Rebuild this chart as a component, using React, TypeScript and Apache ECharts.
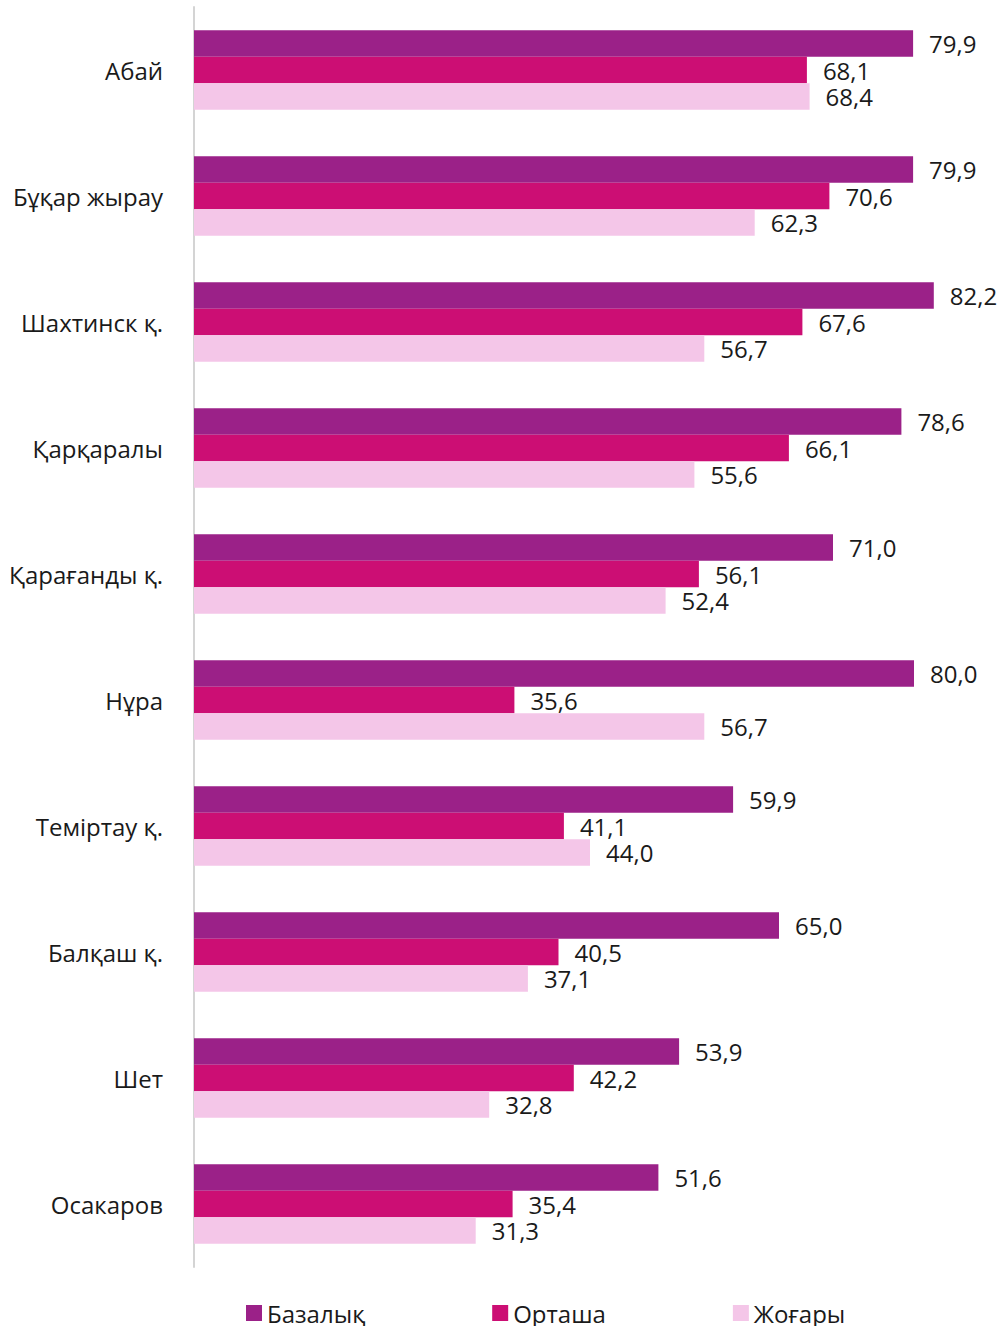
import React, { useEffect, useRef } from "react";
import * as echarts from "echarts";

const categories = ["Абай", "Бұқар жырау", "Шахтинск қ.", "Қарқаралы", "Қарағанды қ.", "Нұра", "Теміртау қ.", "Балқаш қ.", "Шет", "Осакаров"];
const seriesNames = ["Базалық", "Орташа", "Жоғары"];
const bazalyq = [79.9, 79.9, 82.2, 78.6, 71.0, 80.0, 59.9, 65.0, 53.9, 51.6];
const ortasha = [68.1, 70.6, 67.6, 66.1, 56.1, 35.6, 41.1, 40.5, 42.2, 35.4];
const zhogary = [68.4, 62.3, 56.7, 55.6, 52.4, 56.7, 44.0, 37.1, 32.8, 31.3];
const colors = ["#9B2188", "#CC0E74", "#F4C6E8"];

export default function App() {
  const ref = useRef<HTMLDivElement>(null);
  useEffect(() => {
    if (!ref.current) return;
    const chart = echarts.init(ref.current, null, { renderer: "svg" });
    const font = "'Open Sans', 'Noto Sans', sans-serif";
    const values = [bazalyq, ortasha, zhogary];
    chart.setOption({
      animation: false,
      textStyle: { fontFamily: font },
      grid: { left: 194, right: 41, top: 7, bottom: 59, containLabel: false },
      xAxis: {
        type: "value",
        min: 0,
        max: 85,
        show: false,
      },
      yAxis: {
        type: "category",
        data: categories,
        inverse: true,
        axisLine: { show: true, lineStyle: { color: "#d4d4d4", width: 2 } },
        axisTick: { show: false },
        axisLabel: { fontSize: 24, color: "#1a1a1a", margin: 31, fontFamily: font, padding: [0, 0, 6, 0] },
      },
      legend: {
        bottom: -4,
        left: 241,
        itemWidth: 16,
        itemHeight: 16,
        itemGap: 127,
        icon: "rect",
        textStyle: { fontSize: 24, color: "#1a1a1a", fontFamily: font },
        data: seriesNames,
      },
      series: seriesNames.map((name, i) => ({
        name,
        type: "bar",
        data: values[i],
        barGap: "0%",
        barCategoryGap: "37%",
        itemStyle: { color: colors[i] },
        label: {
          show: true,
          position: "right",
          distance: 16,
          fontSize: 24,
          color: "#1a1a1a",
          fontFamily: font,
          formatter: (p: any) => Number(p.value).toFixed(1).replace(".", ","),
        },
      })),
    });
    return () => chart.dispose();
  }, []);
  return <div ref={ref} style={{ position: "absolute", left: 0, top: 0, width: 1000, height: 1326 }} />;
}
